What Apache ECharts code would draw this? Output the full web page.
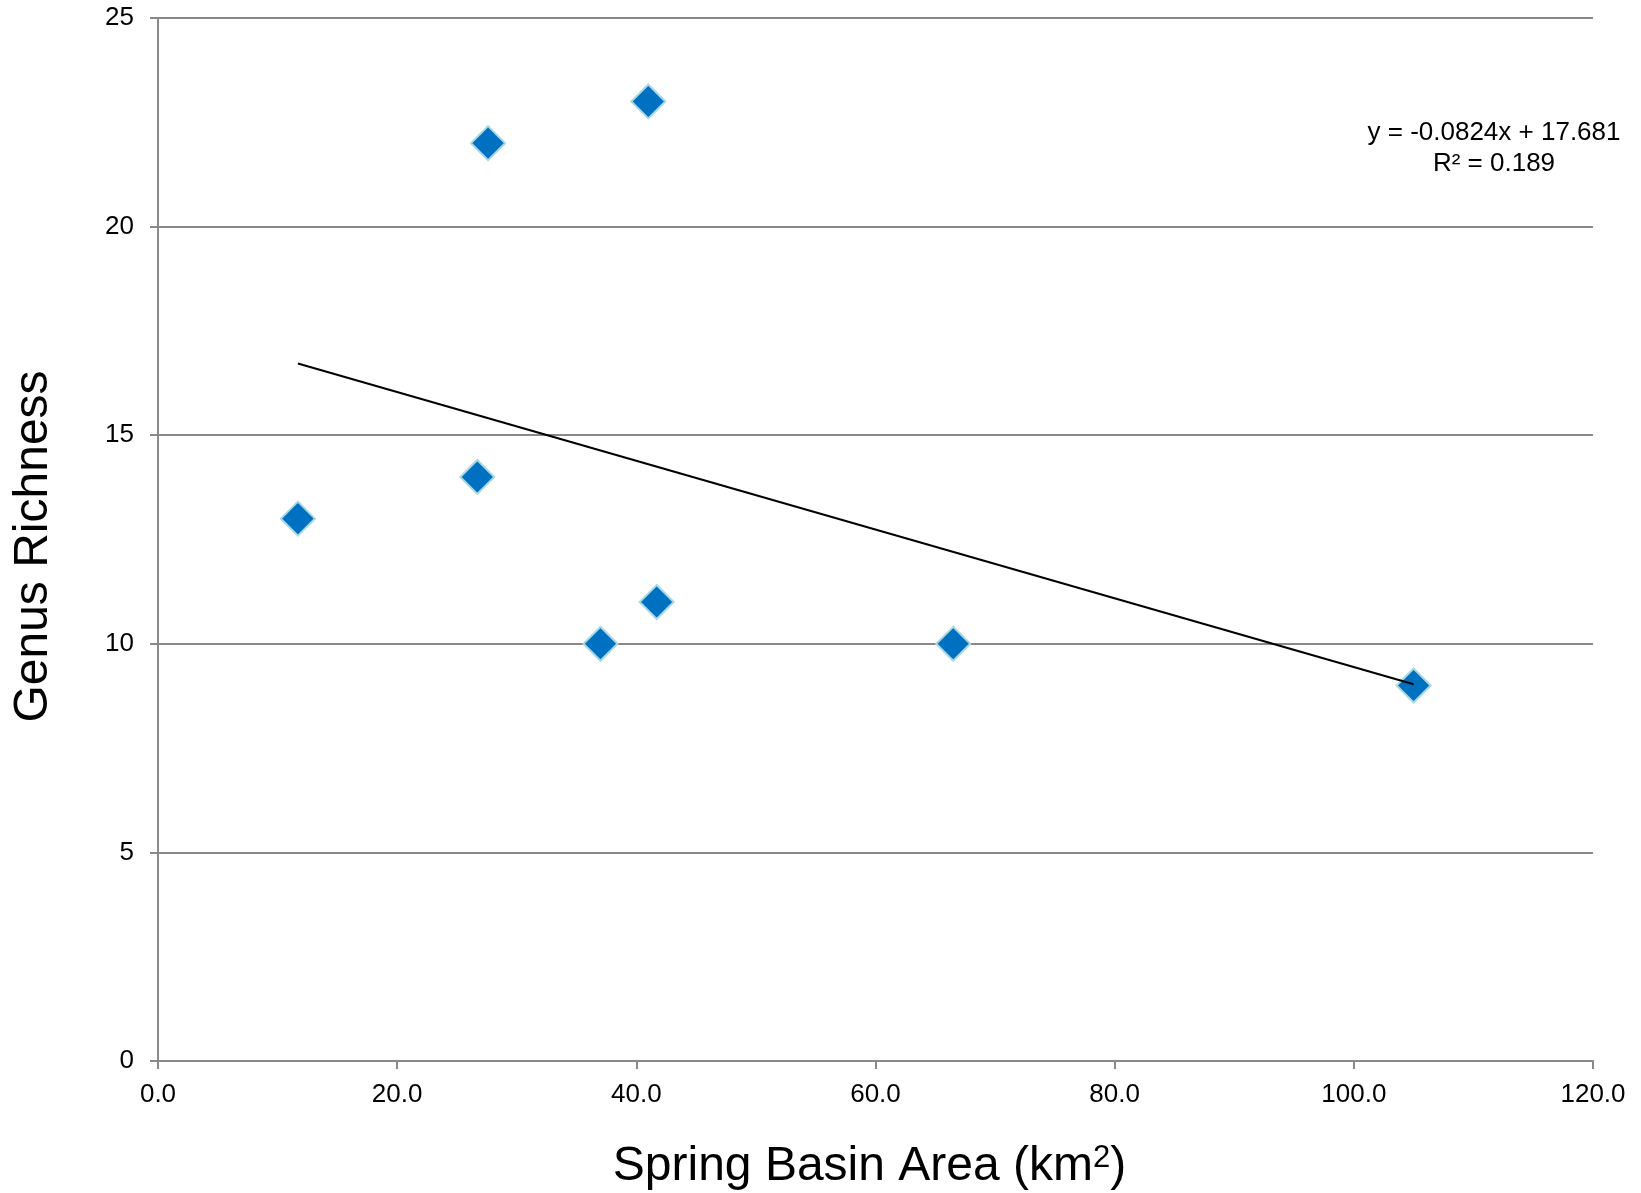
<!DOCTYPE html>
<html>
<head>
<meta charset="utf-8">
<title>Genus Richness vs Spring Basin Area</title>
<script src="https://cdn.jsdelivr.net/npm/echarts@6/dist/echarts.min.js"></script>
<style>
  html, body { margin: 0; padding: 0; background: #fff; }
  #chart { width: 1641px; height: 1193px; }
</style>
</head>
<body>
<div id="chart"></div>
<script>
// data
const basinArea = [11.7, 26.7, 27.6, 37.0, 41.0, 41.7, 66.5, 105.0];
const genusRichness = [13, 14, 22, 10, 23, 11, 10, 9];
// linear trendline, ends as drawn
const trendX = [11.7, 105.0];
const trendY = [16.72, 9.03];
const equationText = ['y = -0.0824x + 17.681', 'R² = 0.189'];

const FONT = '"Liberation Sans", Arial, Helvetica, sans-serif';
const GRAY = '#898989';

const points = basinArea.map((x, i) => [x, genusRichness[i]]);
const trend = trendX.map((x, i) => [x, trendY[i]]);

const chart = echarts.init(document.getElementById('chart'));

const option = {
  animation: false,
  backgroundColor: '#fff',
  textStyle: { fontFamily: FONT, color: '#000' },
  grid: { left: 158, right: 48, top: 18, bottom: 132, containLabel: false, outerBoundsMode: 'none' },
  xAxis: {
    type: 'value',
    min: 0,
    max: 120,
    interval: 20,
    name: 'Spring Basin Area (km{sup|2})',
    nameLocation: 'middle',
    nameGap: 82,
    nameTextStyle: {
      fontFamily: FONT, fontSize: 48, color: '#000', padding: [0, 12, 0, 0],
      rich: { sup: { fontFamily: FONT, fontSize: 31, color: '#000', verticalAlign: 'top', padding: [0, 0, 16, 0] } }
    },
    axisLine: { show: true, lineStyle: { color: GRAY, width: 2 } },
    axisTick: { show: true, inside: false, length: 8, lineStyle: { color: GRAY, width: 2 } },
    axisLabel: {
      fontFamily: FONT, fontSize: 26, color: '#000', margin: 21,
      formatter: v => v.toFixed(1)
    },
    splitLine: { show: false }
  },
  yAxis: {
    type: 'value',
    min: 0,
    max: 25,
    interval: 5,
    name: 'Genus Richness',
    nameLocation: 'middle',
    nameGap: 100,
    nameTextStyle: { fontFamily: FONT, fontSize: 48, color: '#000', padding: [0, 14, 0, 0] },
    axisLine: { show: true, lineStyle: { color: GRAY, width: 2 } },
    axisTick: { show: true, inside: false, length: 8, lineStyle: { color: GRAY, width: 2 } },
    axisLabel: { fontFamily: FONT, fontSize: 26, color: '#000', margin: 24 },
    splitLine: { show: true, lineStyle: { color: GRAY, width: 2 } }
  },
  series: [
    {
      // trendline
      type: 'line',
      data: trend,
      symbol: 'none',
      silent: true,
      z: 3,
      lineStyle: { color: '#000', width: 2 }
    },
    {
      type: 'scatter',
      data: points,
      symbol: 'diamond',
      symbolSize: 34,
      z: 2,
      itemStyle: { color: '#0070C0', borderColor: '#a9d8e2', borderWidth: 2, opacity: 1 }
    }
  ],
  graphic: [
    {
      type: 'text',
      x: 1494,
      y: 117,
      style: {
        text: equationText.join('\n'),
        align: 'center',
        verticalAlign: 'top',
        fontFamily: FONT,
        fontSize: 26,
        lineHeight: 31,
        fill: '#000'
      }
    }
  ]
};

chart.setOption(option);
</script>
</body>
</html>
